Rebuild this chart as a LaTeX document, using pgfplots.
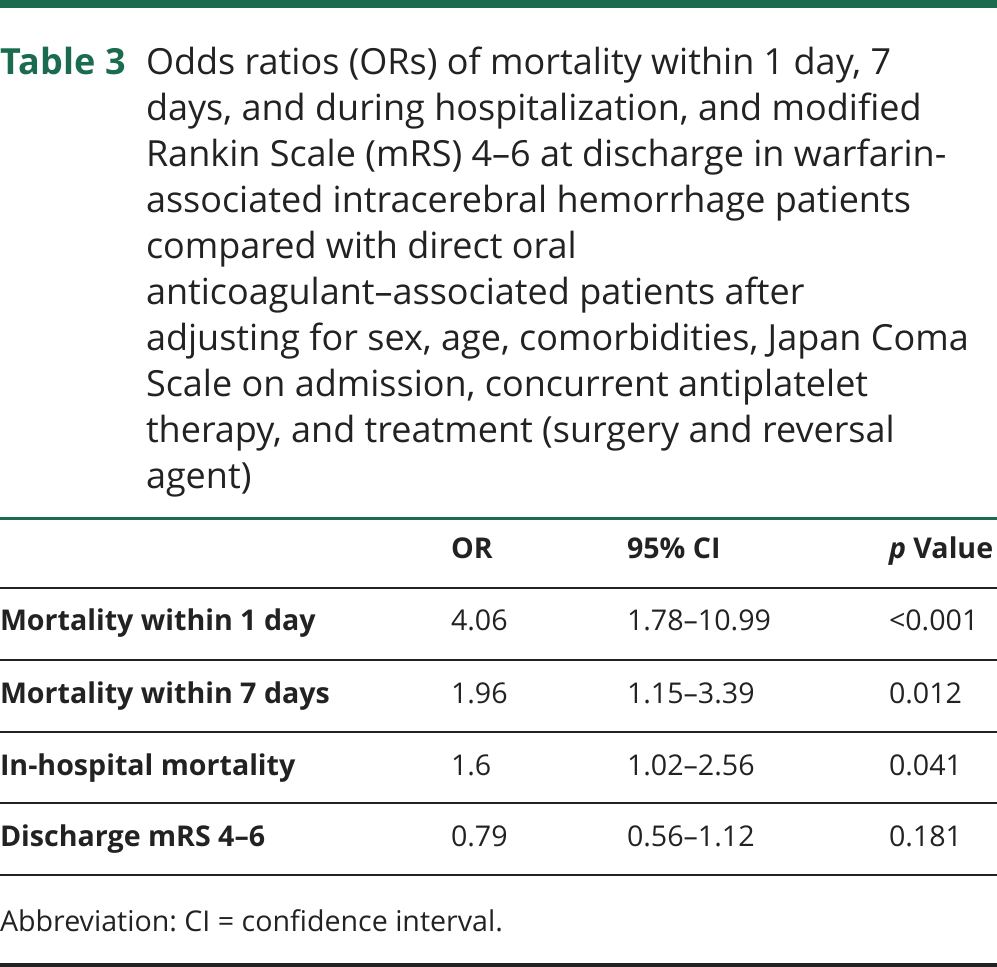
\documentclass[border=0pt]{standalone}
\usepackage{pgfplots}
\pgfplotsset{compat=1.18}
\usepackage{fontspec}
\setmainfont{Open Sans}
\definecolor{ngreen}{HTML}{1B6B4E}
\definecolor{txt}{HTML}{222222}
\tikzset{
  L/.style={anchor=base west, inner sep=0pt, outer sep=0pt, text=txt},
  T/.style={L, font=\fontsize{36}{44}\selectfont\frenchspacing},
  B/.style={L, font=\fontsize{28.6}{34}\selectfont\bfseries\frenchspacing},
  R/.style={L, font=\fontsize{28.6}{34}\selectfont\frenchspacing},
}
\begin{document}
\frenchspacing
\begin{tikzpicture}
\useasboundingbox (0,0) rectangle (997pt,967pt);
\begin{axis}[
  at={(0,0)}, anchor=south west,
  scale only axis, width=997pt, height=967pt,
  xmin=0, xmax=997, ymin=0, ymax=967, y dir=reverse,
  hide axis, clip=false,
]
% rules
\addplot[ngreen, line width=8pt, forget plot] coordinates {(0,4) (997,4)};
\addplot[ngreen, line width=3pt, forget plot] coordinates {(0,518) (997,518)};
\addplot[txt, line width=2.6pt, forget plot] coordinates {(0,588) (997,588)};
\addplot[txt, line width=2.6pt, forget plot] coordinates {(0,660) (997,660)};
\addplot[txt, line width=2.6pt, forget plot] coordinates {(0,732) (997,732)};
\addplot[txt, line width=2.6pt, forget plot] coordinates {(0,803) (997,803)};
\addplot[txt, line width=2.6pt, forget plot] coordinates {(0,875) (997,875)};
\addplot[txt, line width=4pt, forget plot] coordinates {(0,965) (997,965)};
% title
\node[T, text=ngreen, font=\fontsize{36}{44}\selectfont\bfseries] at (axis cs:1,74) {Table 3};
\node[T] at (axis cs:146,74)  {Odds ratios (ORs) of mortality within 1 day, 7};
\node[T] at (axis cs:146,120) {days, and during hospitalization, and modified};
\node[T] at (axis cs:146,166) {Rankin Scale (mRS) 4–6 at discharge in warfarin-};
\node[T] at (axis cs:146,212) {associated intracerebral hemorrhage patients};
\node[T] at (axis cs:146,258) {compared with direct oral};
\node[T] at (axis cs:146,304) {anticoagulant–associated patients after};
\node[T] at (axis cs:146,350) {adjusting for sex, age, comorbidities, Japan Coma};
\node[T] at (axis cs:146,396) {Scale on admission, concurrent antiplatelet};
\node[T] at (axis cs:146,442) {therapy, and treatment (surgery and reversal};
\node[T] at (axis cs:146,488) {agent)};
% header
\node[B] at (axis cs:451,558) {OR};
\node[B] at (axis cs:627,558) {95\% CI};
\node[B] at (axis cs:889,558) {\textit{p} Value};
% rows
\node[B] at (axis cs:0,630) {Mortality within 1 day};
\node[B] at (axis cs:0,703) {Mortality within 7 days};
\node[B] at (axis cs:0,775) {In-hospital mortality};
\node[B] at (axis cs:0,846) {Discharge mRS 4–6};
\node[R] at (axis cs:451,630) {4.06};
\node[R] at (axis cs:627,630) {1.78–10.99};
\node[R] at (axis cs:889,630) {<0.001};
\node[R] at (axis cs:451,703) {1.96};
\node[R] at (axis cs:627,703) {1.15–3.39};
\node[R] at (axis cs:889,703) {0.012};
\node[R] at (axis cs:451,775) {1.6};
\node[R] at (axis cs:627,775) {1.02–2.56};
\node[R] at (axis cs:889,775) {0.041};
\node[R] at (axis cs:451,846) {0.79};
\node[R] at (axis cs:627,846) {0.56–1.12};
\node[R] at (axis cs:889,846) {0.181};
% footnote
\node[R] at (axis cs:0,931) {Abbreviation: CI = confidence interval.};
\end{axis}
\end{tikzpicture}
\end{document}
